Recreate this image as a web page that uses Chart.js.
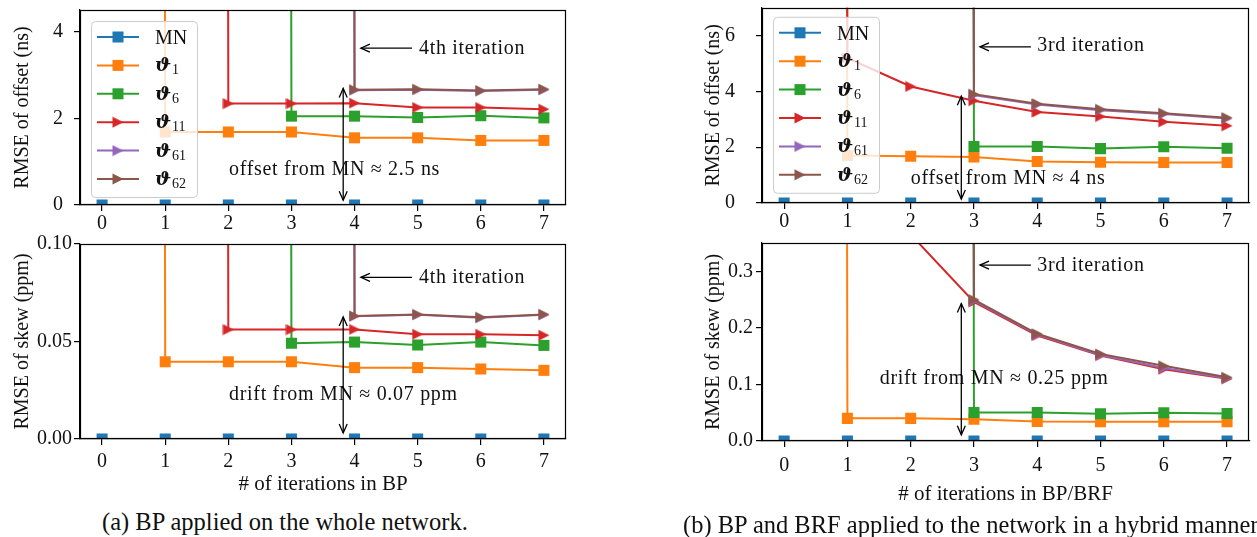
<!DOCTYPE html>
<html><head><meta charset="utf-8">
<script src="https://cdn.jsdelivr.net/npm/chart.js@4"></script>
<style>
html,body{margin:0;padding:0;background:#fff;width:1257px;height:537px;overflow:hidden;position:relative;}
canvas{position:absolute;}
.cap{position:absolute;font-family:"Liberation Serif","Times New Roman",serif;font-size:24.5px;line-height:24px;white-space:nowrap;color:#111;}
</style></head><body>
<canvas id="aOff" width="580" height="235" style="left:0;top:0"></canvas>
<canvas id="aSkew" width="580" height="270" style="left:0;top:230px"></canvas>
<canvas id="bOff" width="567" height="233" style="left:690px;top:0"></canvas>
<canvas id="bSkew" width="567" height="280" style="left:690px;top:230px"></canvas>
<div class="cap" style="left:102px;top:510px">(a) BP applied on the whole network.</div>
<div class="cap" style="left:683px;top:513px">(b) BP and BRF applied to the network in a hybrid manner.</div>
<script>
// ---------- data ----------
const iterations = [0, 1, 2, 3, 4, 5, 6, 7];
const seriesLabels = ["MN", "ϑ1", "ϑ6", "ϑ11", "ϑ61", "ϑ62"];
const seriesColors = ["#1f77b4", "#ff7f0e", "#2ca02c", "#d62728", "#9467bd", "#8c564b"];
const seriesMarkers = ["s", "s", "s", ">", ">", ">"];

// (a) BP on whole network, RMSE of offset (ns); 1000 = far off the scale (not yet converged)
const aOffMN  = [0, 0, 0, 0, 0, 0, 0, 0];
const aOffT1  = [1000, 1.685, 1.685, 1.685, 1.55, 1.55, 1.49, 1.49];
const aOffT6  = [1000, 1000, 1000, 2.05, 2.05, 2.02, 2.06, 2.01];
const aOffT11 = [1000, 1000, 2.34, 2.34, 2.35, 2.25, 2.25, 2.21];
const aOffT61 = [1000, 1000, 1000, 1000, 2.65, 2.66, 2.63, 2.66];
const aOffT62 = [1000, 1000, 1000, 1000, 2.66, 2.67, 2.64, 2.67];
// (a) RMSE of skew (ppm)
const aSkewMN  = [0, 0, 0, 0, 0, 0, 0, 0];
const aSkewT1  = [1000, 0.0396, 0.0396, 0.0396, 0.0366, 0.0366, 0.0359, 0.0352];
const aSkewT6  = [1000, 1000, 1000, 0.0491, 0.0497, 0.0482, 0.0497, 0.0480];
const aSkewT11 = [1000, 1000, 0.0561, 0.0561, 0.0562, 0.0537, 0.0537, 0.0532];
const aSkewT61 = [1000, 1000, 1000, 1000, 0.0629, 0.0637, 0.0622, 0.0637];
const aSkewT62 = [1000, 1000, 1000, 1000, 0.0631, 0.0639, 0.0624, 0.0639];
// (b) hybrid BP/BRF, RMSE of offset (ns)
const bOffMN  = [0, 0, 0, 0, 0, 0, 0, 0];
const bOffT1  = [1000, 1.70, 1.68, 1.65, 1.49, 1.46, 1.45, 1.45];
const bOffT6  = [1000, 1000, 1000, 2.03, 2.03, 1.95, 2.02, 1.96];
const bOffT11 = [1000, 5.2, 4.18, 3.67, 3.26, 3.10, 2.91, 2.77];
const bOffT61 = [1000, 1000, 1000, 3.87, 3.53, 3.33, 3.19, 3.03];
const bOffT62 = [1000, 1000, 1000, 3.90, 3.56, 3.36, 3.22, 3.06];
// (b) RMSE of skew (ppm)
const bSkewMN  = [0, 0, 0, 0, 0, 0, 0, 0];
const bSkewT1  = [1000, 0.040, 0.040, 0.0385, 0.0343, 0.034, 0.034, 0.034];
const bSkewT6  = [1000, 1000, 1000, 0.0503, 0.0503, 0.048, 0.050, 0.0485];
const bSkewT11 = [1000, 0.55, 0.365, 0.246, 0.1865, 0.151, 0.127, 0.110];
const bSkewT61 = [1000, 1000, 1000, 0.248, 0.188, 0.152, 0.129, 0.111];
const bSkewT62 = [1000, 1000, 1000, 0.250, 0.1895, 0.154, 0.133, 0.1125];

// tick values / labels
const aOffTicks = [0, 2, 4];            const aOffTickLabels = ["0", "2", "4"];
const aSkewTicks = [0, 0.05, 0.10];     const aSkewTickLabels = ["0.00", "0.05", "0.10"];
const bOffTicks = [0, 2, 4, 6];         const bOffTickLabels = ["0", "2", "4", "6"];
const bSkewTicks = [0, 0.1, 0.2, 0.3];  const bSkewTickLabels = ["0.0", "0.1", "0.2", "0.3"];
const xTickLabels = ["0", "1", "2", "3", "4", "5", "6", "7"];

// ---------- styling helpers ----------
const SERIF = '"Liberation Serif", "Times New Roman", serif';
const TXT = '#111';
function triImg(color) {
  const c = document.createElement('canvas'); c.width = 12; c.height = 12;
  const g = c.getContext('2d'); g.fillStyle = color;
  g.beginPath(); g.moveTo(0.5, 0.5); g.lineTo(11.5, 6); g.lineTo(0.5, 11.5); g.closePath(); g.fill();
  return c;
}
const triImgs = seriesColors.map(triImg);

function arrowHead(ctx, tx, ty, dx, dy) {
  const L = 9, W = 4;
  const n = Math.hypot(dx, dy); dx /= n; dy /= n;
  const bx = tx - dx * L, by = ty - dy * L, px = -dy, py = dx;
  ctx.beginPath();
  ctx.moveTo(bx + px * W, by + py * W); ctx.lineTo(tx, ty); ctx.lineTo(bx - px * W, by - py * W);
  ctx.stroke();
}

const panelPlugin = {
  id: 'panel',
  afterDatasetsDraw(chart, args, o) {
    const { ctx, chartArea: a, scales: { x, y } } = chart;
    ctx.save();
    // full box (spines)
    ctx.strokeStyle = '#000'; ctx.lineWidth = 1.2;
    ctx.strokeRect(Math.round(a.left) + 0.5, Math.round(a.top) + 0.5, Math.round(a.right - a.left) - 1, Math.round(a.bottom - a.top) - 1);
    // annotations
    ctx.lineWidth = 1.3; ctx.strokeStyle = '#000'; ctx.fillStyle = TXT;
    ctx.font = '20px ' + SERIF; ctx.letterSpacing = '0.7px';
    ctx.textBaseline = 'alphabetic'; ctx.textAlign = 'left';
    if (o.iter) {
      const X0 = x.getPixelForValue(o.iter.x0), X1 = x.getPixelForValue(o.iter.x1), Y = y.getPixelForValue(o.iter.y);
      ctx.beginPath(); ctx.moveTo(X0, Y); ctx.lineTo(X1, Y); ctx.stroke();
      arrowHead(ctx, X1, Y, X1 - X0, 0);
      ctx.fillText(o.iter.text, x.getPixelForValue(o.iter.tx), y.getPixelForValue(o.iter.ty));
    }
    if (o.note) {
      ctx.fillText(o.note.text, x.getPixelForValue(o.note.x), y.getPixelForValue(o.note.y));
    }
    if (o.span) {
      const X = x.getPixelForValue(o.span.x), Y0 = y.getPixelForValue(o.span.y0), Y1 = y.getPixelForValue(o.span.y1);
      ctx.beginPath(); ctx.moveTo(X, Y0); ctx.lineTo(X, Y1); ctx.stroke();
      arrowHead(ctx, X, Y0, 0, 1); arrowHead(ctx, X, Y1, 0, -1);
    }
    ctx.letterSpacing = '0px';
    // legend
    if (o.legend) {
      const lx = a.left + o.legend.dx, ly = a.top + o.legend.dy, w = 106, h = 176;
      ctx.beginPath(); ctx.roundRect(lx + 0.5, ly + 0.5, w, h, 4);
      ctx.fillStyle = 'rgba(255,255,255,0.8)'; ctx.fill();
      ctx.strokeStyle = '#cccccc'; ctx.lineWidth = 1; ctx.stroke();
      seriesLabels.forEach((lab, i) => {
        const cy = ly + 16 + i * 28.4, col = seriesColors[i];
        ctx.strokeStyle = col; ctx.lineWidth = 2;
        ctx.beginPath(); ctx.moveTo(lx + 6, cy); ctx.lineTo(lx + 48, cy); ctx.stroke();
        if (seriesMarkers[i] === 's') { ctx.fillStyle = col; ctx.fillRect(lx + 27 - 5.5, cy - 5.5, 11, 11); }
        else ctx.drawImage(triImgs[i], lx + 27 - 6, cy - 6);
        ctx.fillStyle = TXT; ctx.textAlign = 'left'; ctx.textBaseline = 'alphabetic';
        const tx = lx + 64;
        if (lab.startsWith('ϑ')) {
          ctx.font = 'bold italic 19px "DejaVu Serif", serif';
          ctx.fillText('ϑ', tx, cy + 6);
          const wv = ctx.measureText('ϑ').width;
          ctx.font = '14px ' + SERIF;
          ctx.fillText(lab.slice(1), tx + wv + 1, cy + 9);
        } else {
          ctx.font = '20px ' + SERIF;
          ctx.fillText(lab, tx, cy + 7);
        }
      });
    }
    ctx.restore();
  }
};

function makeDatasets(arrs) {
  return arrs.map((arr, i) => ({
    label: seriesLabels[i],
    data: iterations.map((it, k) => ({ x: it, y: arr[k] })),
    borderColor: seriesColors[i], backgroundColor: seriesColors[i],
    borderWidth: 2, tension: 0, clip: 0,
    pointStyle: seriesMarkers[i] === 's' ? 'rect' : triImgs[i],
    pointRadius: seriesMarkers[i] === 's' ? 7.8 : 6,
    pointHoverRadius: seriesMarkers[i] === 's' ? 7.8 : 6,
    pointBorderWidth: 0,
    order: arrs.length - 1 - i
  }));
}

function zeroPad(s) { s.paddingTop = 0; s.paddingBottom = 0; s.paddingLeft = 0; s.paddingRight = 0; }

function makeChart(id, cfg) {
  const gridOpt = { drawOnChartArea: false, drawTicks: true, tickLength: 6, color: '#000', tickColor: '#000', lineWidth: 1.2 };
  const borderOpt = { display: true, color: '#000', width: 1.2 };
  return new Chart(document.getElementById(id), {
    type: 'line',
    data: { datasets: makeDatasets(cfg.series) },
    options: {
      responsive: false, animation: false, events: [], devicePixelRatio: 1,
      layout: { padding: cfg.pad },
      plugins: { legend: { display: false }, tooltip: { enabled: false }, panel: cfg.panel },
      scales: {
        x: {
          type: 'linear', min: -0.35, max: 7.35,
          afterBuildTicks: s => { s.ticks = iterations.map(v => ({ value: v })); },
          afterFit: s => { s.height = cfg.xH; zeroPad(s); },
          ticks: { callback: (v, i) => xTickLabels[i], font: { family: SERIF, size: 20 }, color: TXT, padding: cfg.xPad, maxRotation: 0, autoSkip: false },
          grid: gridOpt, border: borderOpt,
          title: cfg.xTitle ? { display: true, text: cfg.xTitle, font: { family: SERIF, size: 21 }, color: TXT, padding: { top: 0, bottom: cfg.xTitlePad } } : { display: false }
        },
        y: {
          type: 'linear', min: 0, max: cfg.yMax,
          afterBuildTicks: s => { s.ticks = cfg.yTicks.map(v => ({ value: v })); },
          afterFit: s => { s.width = cfg.yW; zeroPad(s); },
          ticks: { callback: (v, i) => cfg.yLabels[i], font: { family: SERIF, size: 20 }, color: TXT, padding: cfg.yPad },
          grid: gridOpt, border: borderOpt,
          title: { display: true, text: cfg.yTitle, font: { family: SERIF, size: 20 }, color: TXT, padding: { top: cfg.yTitlePad, bottom: 0 } }
        }
      }
    },
    plugins: [panelPlugin]
  });
}

makeChart('aOff', {
  series: [aOffMN, aOffT1, aOffT6, aOffT11, aOffT61, aOffT62],
  pad: { top: 10, right: 14, left: 0, bottom: 0 }, xH: 30, xPad: 1, yW: 80, yPad: 11, yTitlePad: 10.5,
  yMax: 4.5, yTicks: aOffTicks, yLabels: aOffTickLabels, yTitle: 'RMSE of offset (ns)',
  panel: {
    iter: { x0: 4.91, x1: 4.10, y: 3.62, tx: 5.02, ty: 3.49, text: '4th iteration' },
    span: { x: 3.82, y0: 0.11, y1: 2.69 },
    note: { x: 2.01, y: 0.69, text: 'offset from MN ≈ 2.5 ns' },
    legend: { dx: 11, dy: 11 }
  }
});
makeChart('aSkew', {
  series: [aSkewMN, aSkewT1, aSkewT6, aSkewT11, aSkewT61, aSkewT62],
  pad: { top: 14, right: 14, left: 0, bottom: 0 }, xH: 61, xPad: 4.7, yW: 80, yPad: 2, yTitlePad: 10.5,
  xTitle: '# of iterations in BP', xTitlePad: 2.5,
  yMax: 0.10, yTicks: aSkewTicks, yLabels: aSkewTickLabels, yTitle: 'RMSE of skew (ppm)',
  panel: {
    iter: { x0: 4.91, x1: 4.10, y: 0.0829, tx: 5.02, ty: 0.0798, text: '4th iteration' },
    span: { x: 3.82, y0: 0.0031, y1: 0.0626 },
    note: { x: 2.01, y: 0.020, text: 'drift from MN ≈ 0.07 ppm' }
  }
});
makeChart('bOff', {
  series: [bOffMN, bOffT1, bOffT6, bOffT11, bOffT61, bOffT62],
  pad: { top: 6, right: 0, left: 0, bottom: 0 }, xH: 30, xPad: 0.5, yW: 72, yPad: 21, yTitlePad: 11.5,
  yMax: 7, yTicks: bOffTicks, yLabels: bOffTickLabels, yTitle: 'RMSE of offset (ns)',
  panel: {
    iter: { x0: 3.90, x1: 3.095, y: 5.60, tx: 4.0, ty: 5.45, text: '3rd iteration' },
    span: { x: 2.80, y0: 0.14, y1: 3.83 },
    note: { x: 2.0, y: 0.67, text: 'offset from MN ≈ 4 ns' },
    legend: { dx: 11, dy: 9 }
  }
});
makeChart('bSkew', {
  series: [bSkewMN, bSkewT1, bSkewT6, bSkewT11, bSkewT61, bSkewT62],
  pad: { top: 13, right: 0, left: 0, bottom: 0 }, xH: 69, xPad: 6.4, yW: 72, yPad: 3, yTitlePad: 11.5,
  xTitle: '# of iterations in BP/BRF', xTitlePad: 3,
  yMax: 0.35, yTicks: bSkewTicks, yLabels: bSkewTickLabels, yTitle: 'RMSE of skew (ppm)',
  panel: {
    iter: { x0: 3.90, x1: 3.095, y: 0.311, tx: 4.0, ty: 0.30, text: '3rd iteration' },
    span: { x: 2.80, y0: 0.011, y1: 0.243 },
    note: { x: 1.51, y: 0.101, text: 'drift from MN ≈ 0.25 ppm' }
  }
});
</script>
</body></html>
